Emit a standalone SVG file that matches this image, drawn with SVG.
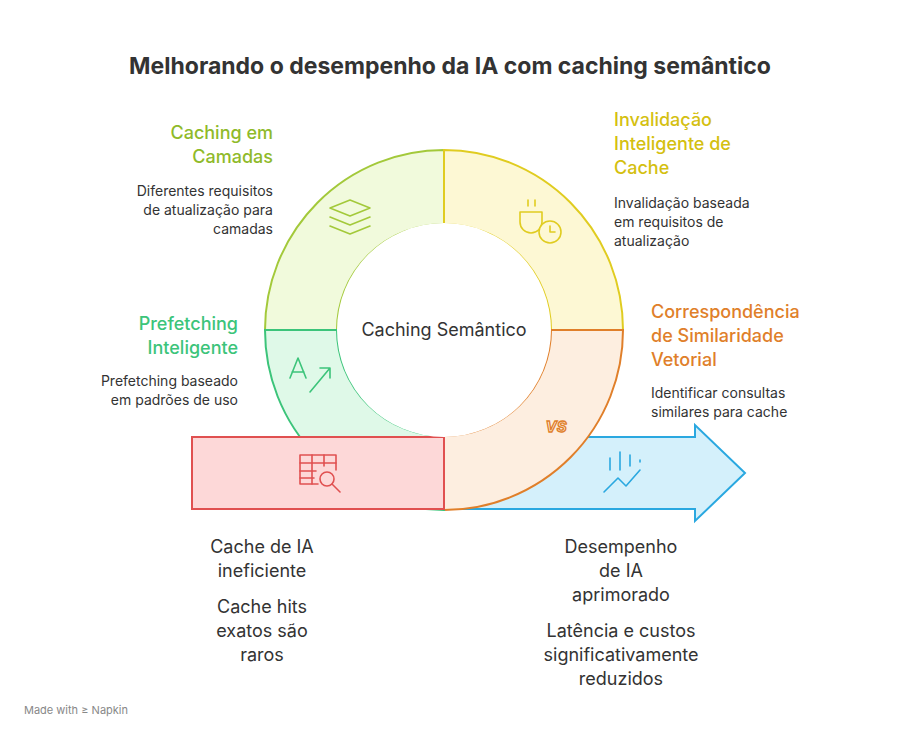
<svg xmlns="http://www.w3.org/2000/svg" width="900" height="738" viewBox="0 0 900 738">
<style>
text{font-family:"Inter","Noto Sans","Liberation Sans",sans-serif}
.t{font-size:18px;font-weight:500}
.d{font-size:14px;fill:#333}
.b{font-size:18px;fill:#333}
.ic{fill:none;stroke-width:1.6;stroke-linecap:round;stroke-linejoin:round}
</style>
<rect width="900" height="738" fill="#fff"/>
<text x="450" y="74" text-anchor="middle" font-size="23" font-weight="700" fill="#333">Melhorando o desempenho da IA com caching semântico</text>
<g id="arrow-out">
<path d="M444,437 H695 V425 L745,473 L695,521 V509 H444 Z" fill="#d4f0fb" stroke="#2aa8e0" stroke-width="2"/>
<g class="ic" stroke="#2aa8e0"><path d="M604,492 L618,478 L626,486 L640,470"/><path d="M610,470 V458 M620,470 V452 M630,466 V455 M640,462 V460"/></g>
</g>
<g id="seg-camadas">
<path d="M265,330 A179,180 0 0 1 444,150 V224 A107,106 0 0 0 337,330 Z" fill="#f1fadc" stroke="#a3c93a" stroke-width="2"/>
<g class="ic" stroke="#a3c93a"><path d="M330,208 L350,200 L370,208 L350,216 Z"/><path d="M330,217 L350,225 L370,217"/><path d="M330,226 L350,234 L370,226"/></g>
</g>
<g id="seg-invalidacao">
<path d="M444,150 A179,180 0 0 1 623,330 H551 A107,106 0 0 0 444,224 Z" fill="#fdf8d4" stroke="#e0cc20" stroke-width="2"/>
<g class="ic" stroke="#e0cc20"><path d="M520,212 H542 V222 A11,11 0 0 1 520,222 Z"/><circle cx="550" cy="232" r="11" fill="#fdf8d4"/><path d="M550,226 V232 H555 M528,206 V200 M535,206 V200"/></g>
</g>
<g id="seg-similaridade">
<path d="M623,330 A179,180 0 0 1 444,510 V436 A107,106 0 0 0 551,330 Z" fill="#fdeee0" stroke="#e07f2a" stroke-width="2"/>
<text x="556" y="432" text-anchor="middle" font-size="15" font-weight="700" font-style="italic" fill="none" stroke="#e07f2a" stroke-width="1.3">VS</text>
</g>
<g id="seg-prefetching">
<path d="M444,510 A179,180 0 0 1 265,330 H337 A107,106 0 0 0 444,436 Z" fill="#dff9e8" stroke="#3cc47a" stroke-width="2"/>
<g class="ic" stroke="#3cc47a"><path d="M290,378 L298,358 L306,378 M292,372 H304"/><path d="M310,392 L330,368 M320,368 H330 V378"/></g>
</g>
<g id="box-ineficiente">
<rect x="192" y="437" width="252" height="72" fill="#fdd8d8" stroke="#e05050" stroke-width="2"/>
<g class="ic" stroke="#e05050"><path d="M318,484 H300 V455 H336 V470"/><path d="M300,463 H336 M300,471 H316 M300,478 H314 M312,455 V484 M324,455 V466"/><circle cx="327" cy="479" r="7"/><path d="M332,484 L340,492"/></g>
</g>
<circle cx="444" cy="330" r="107" fill="#fff"/>
<text x="444" y="336" text-anchor="middle" class="b">Caching Semântico</text>
<g id="labels">
<text class="t" fill="#8fba2a" text-anchor="end"><tspan x="273" y="139">Caching em</tspan><tspan x="273" y="163">Camadas</tspan></text>
<text class="d" text-anchor="end"><tspan x="273" y="196">Diferentes requisitos</tspan><tspan x="273" y="215">de atualização para</tspan><tspan x="273" y="234">camadas</tspan></text>
<text class="t" fill="#d4c010"><tspan x="614" y="126">Invalidação</tspan><tspan x="614" y="150">Inteligente de</tspan><tspan x="614" y="174">Cache</tspan></text>
<text class="d"><tspan x="614" y="208">Invalidação baseada</tspan><tspan x="614" y="227">em requisitos de</tspan><tspan x="614" y="246">atualização</tspan></text>
<text class="t" fill="#e07f2a"><tspan x="651" y="318">Correspondência</tspan><tspan x="651" y="342">de Similaridade</tspan><tspan x="651" y="366">Vetorial</tspan></text>
<text class="d"><tspan x="651" y="398">Identificar consultas</tspan><tspan x="651" y="417">similares para cache</tspan></text>
<text class="t" fill="#3cc47a" text-anchor="end"><tspan x="238" y="330">Prefetching</tspan><tspan x="238" y="354">Inteligente</tspan></text>
<text class="d" text-anchor="end"><tspan x="238" y="386">Prefetching baseado</tspan><tspan x="238" y="405">em padrões de uso</tspan></text>
<text class="b" text-anchor="middle"><tspan x="262" y="553">Cache de IA</tspan><tspan x="262" y="577">ineficiente</tspan></text>
<text class="b" text-anchor="middle"><tspan x="262" y="613">Cache hits</tspan><tspan x="262" y="637">exatos são</tspan><tspan x="262" y="661">raros</tspan></text>
<text class="b" text-anchor="middle"><tspan x="621" y="553">Desempenho</tspan><tspan x="621" y="577">de IA</tspan><tspan x="621" y="601">aprimorado</tspan></text>
<text class="b" text-anchor="middle"><tspan x="621" y="637">Latência e custos</tspan><tspan x="621" y="661">significativamente</tspan><tspan x="621" y="685">reduzidos</tspan></text>
<text x="24" y="714" font-size="11" fill="#888">Made with ≥ Napkin</text>
</g>
</svg>
